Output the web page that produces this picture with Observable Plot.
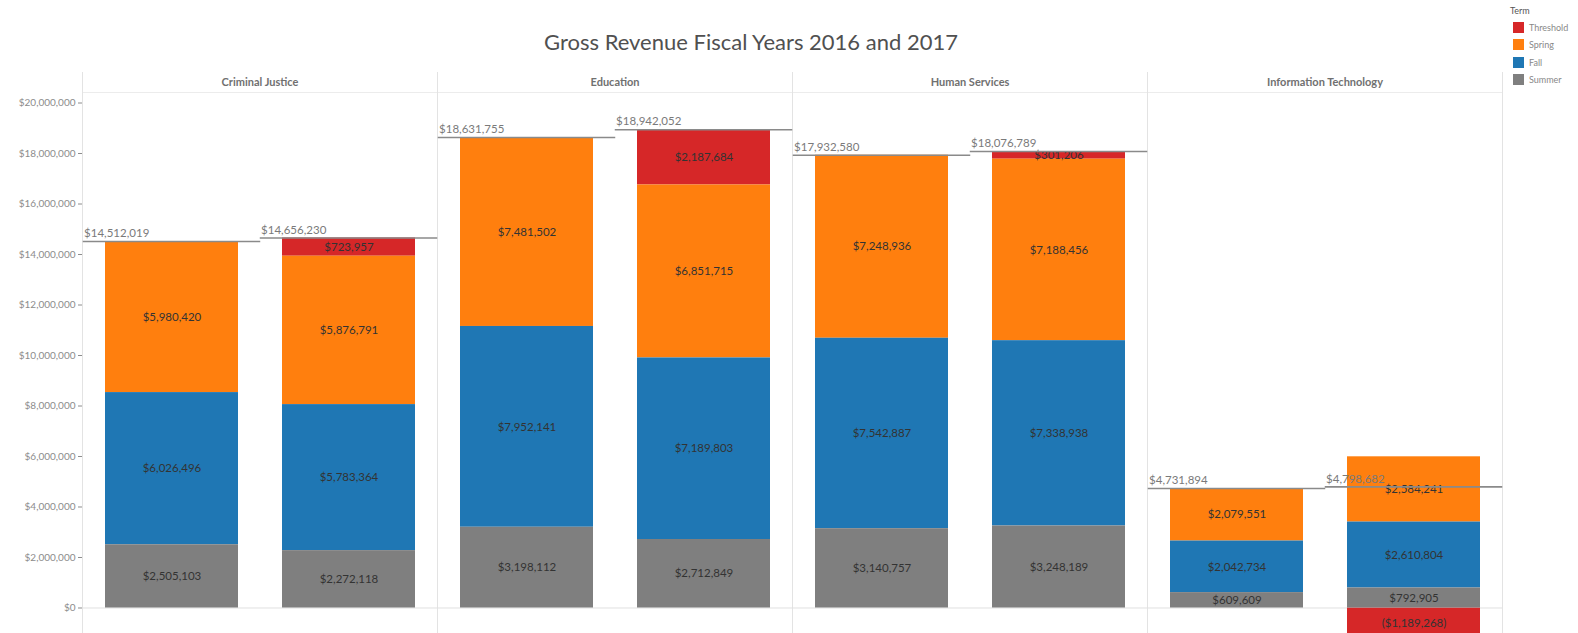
<!DOCTYPE html>
<html><head><meta charset="utf-8">
<script src="https://cdn.jsdelivr.net/npm/d3@7"></script>
<script src="https://cdn.jsdelivr.net/npm/@observablehq/plot@0.6"></script>
<style>
body{margin:0;background:#fff;font-family:Lato, "Open Sans", sans-serif;}
#wrap{position:relative;width:1578px;height:633px;overflow:hidden;background:#fff;}
#title{position:absolute;left:0;width:1502px;top:29px;line-height:26px;text-align:center;font-size:22px;color:#505050;}
#chart{position:absolute;left:0;top:60px;}
#ytitle{position:absolute;left:10px;top:374px;transform:translate(-50%,-50%) rotate(-90deg);font-size:9px;color:#ccc;white-space:nowrap;}
.lg{position:absolute;font-size:9px;color:#888;white-space:nowrap;}
.sw{position:absolute;width:11px;height:11px;}
</style></head>
<body><div id="wrap">
<div id="title">Gross Revenue Fiscal Years 2016 and 2017</div>
<div id="ytitle">Gross Revenue</div>
<div id="chart"></div>
<div id="legend"></div>
</div>
<script>
const departments = ["Criminal Justice","Education","Human Services","Information Technology"];
const years = ["2016","2017"];
const terms = ["Threshold","Spring","Fall","Summer"];
const stackOrder = ["Summer","Fall","Spring","Threshold"];
const termColors = ["#d62728","#ff7f0e","#1f77b4","#7f7f7f"];
const summer = [[2505103,2272118],[3198112,2712849],[3140757,3248189],[609609,792905]];
const fall = [[6026496,5783364],[7952141,7189803],[7542887,7338938],[2042734,2610804]];
const spring = [[5980420,5876791],[7481502,6851715],[7248936,7188456],[2079551,2584241]];
const threshold = [[null,723957],[null,2187684],[null,301206],[null,-1189268]];
const totals = [[14512019,14656230],[18631755,18942052],[17932580,18076789],[4731894,4798682]];
const yTicks = d3.range(0, 20000001, 2000000);

const series = {Summer: summer, Fall: fall, Spring: spring, Threshold: threshold};
const rows = [];
departments.forEach((dept, i) => years.forEach((year, j) => terms.forEach(term => {
  const v = series[term][i][j];
  if (v != null) rows.push({dept, year, term, value: v});
})));
const totalRows = [];
departments.forEach((dept, i) => years.forEach((year, j) => totalRows.push({dept, year, total: totals[i][j]})));

const money = d3.format(",");
const fmt = v => v < 0 ? "($" + money(-v) + ")" : "$" + money(v);

const W = 1578, H = 573, ML = 80, MR = 75, MT = 32;
const facetW = (W - ML - MR) / departments.length;
const step = facetW / 2;
const outer = 0.125 * step, bw = 0.75 * step;

const chart = Plot.plot({
  width: W, height: H,
  marginLeft: ML, marginRight: MR, marginTop: MT, marginBottom: 0,
  style: {fontFamily: "Lato, 'Open Sans', sans-serif", background: "white", overflow: "visible"},
  fx: {domain: departments, padding: 0, axis: null},
  x: {domain: years, paddingInner: 0.25, paddingOuter: 0.125, axis: null},
  y: {domain: [-1010000, 20416000], axis: null},
  color: {domain: terms, range: termColors},
  marks: [
    Plot.frame({anchor: "top", stroke: "#ececec"}),
    Plot.frame({anchor: "left", stroke: "#e3e3e3", insetTop: -20}),
    Plot.frame({anchor: "right", stroke: "#e3e3e3", insetTop: -20}),
    Plot.ruleY([0], {stroke: "#e0e0e0"}),
    Plot.axisY({ticks: yTicks, tickFormat: d => "$" + money(d), tickSize: 4, tickPadding: 3, fontSize: 10, color: "#8c8c8c", label: null}),
    Plot.text(departments, {fx: d => d, text: d => d, frameAnchor: "top", dy: -14, fontSize: 11, fontWeight: 700, fill: "#707070"}),
    Plot.barY(rows, {fx: "dept", x: "year", y: "value", fill: "term", order: stackOrder}),
    Plot.text(rows, Plot.stackY({fx: "dept", x: "year", y: "value", z: "term", order: stackOrder, text: d => fmt(d.value), fill: "#333", fontSize: 11.5})),
    Plot.tickY(totalRows, {fx: "dept", x: "year", y: "total", stroke: "#8a8a8a", strokeWidth: 1.6, insetLeft: -outer, insetRight: -outer}),
    Plot.text(totalRows, {fx: "dept", x: "year", y: "total", text: d => fmt(d.total), textAnchor: "start", dx: -(bw / 2 + outer) + 1, dy: -8, fontSize: 11.5, fill: "#7a7a7a"})
  ]
});
document.getElementById("chart").appendChild(chart);

const legend = document.getElementById("legend");
const lt = document.createElement("div");
lt.className = "lg"; lt.textContent = "Term";
lt.style.left = "1510px"; lt.style.top = "5px"; lt.style.color = "#555";
legend.appendChild(lt);
terms.forEach((t, i) => {
  const top = 21.5 + i * 17.5;
  const sw = document.createElement("div");
  sw.className = "sw"; sw.style.left = "1513px"; sw.style.top = top + "px"; sw.style.background = termColors[i];
  legend.appendChild(sw);
  const lb = document.createElement("div");
  lb.className = "lg"; lb.textContent = t;
  lb.style.left = "1529px"; lb.style.top = (top) + "px";
  legend.appendChild(lb);
});
</script>
</body></html>
